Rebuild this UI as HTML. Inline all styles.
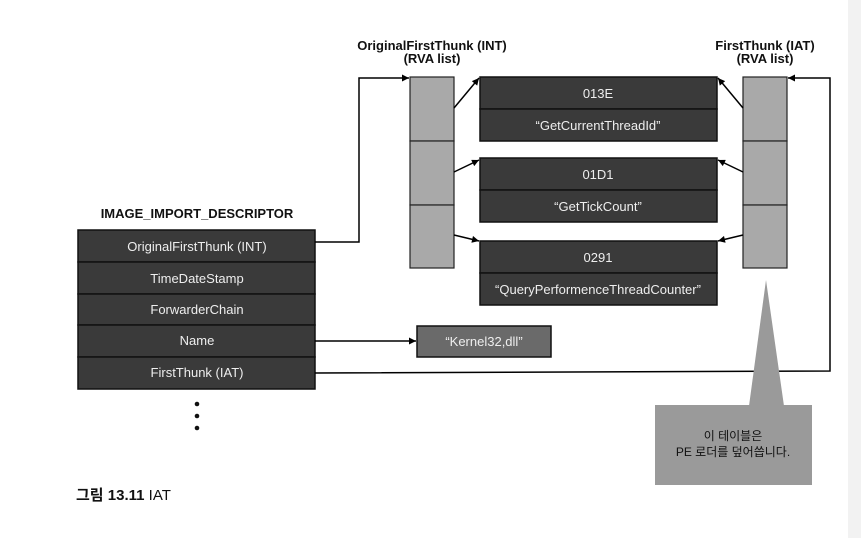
<!DOCTYPE html>
<html><head><meta charset="utf-8"><style>
html,body{margin:0;padding:0;background:#fff;}
svg{display:block;}
text{font-family:"Liberation Sans","Noto Sans CJK KR",sans-serif;}
</style></head><body>
<svg width="861" height="538" viewBox="0 0 861 538" xmlns="http://www.w3.org/2000/svg">
<defs>
<marker id="a" viewBox="0 0 10 10" refX="10" refY="5" markerWidth="9" markerHeight="7" orient="auto" markerUnits="userSpaceOnUse"><path d="M0,0 L10,5 L0,10 z" fill="#000"/></marker>
</defs>
<rect width="861" height="538" fill="#fff"/>
<rect x="848" y="0" width="13" height="538" fill="#f2f2f2"/>
<!-- headers -->
<g font-weight="bold" font-size="13" fill="#111" text-anchor="middle">
<text x="432" y="50">OriginalFirstThunk (INT)</text>
<text x="432" y="63">(RVA list)</text>
<text x="765" y="50">FirstThunk (IAT)</text>
<text x="765" y="63">(RVA list)</text>
<text x="197" y="218">IMAGE_IMPORT_DESCRIPTOR</text>
</g>
<!-- left table -->
<g stroke="#111" stroke-width="1.5" fill="#3a3a3a">
<rect x="78" y="230" width="237" height="32"/>
<rect x="78" y="262" width="237" height="32"/>
<rect x="78" y="294" width="237" height="31"/>
<rect x="78" y="325" width="237" height="32"/>
<rect x="78" y="357" width="237" height="32"/>
</g>
<g fill="#eee" font-size="13" text-anchor="middle">
<text x="197" y="251">OriginalFirstThunk (INT)</text>
<text x="197" y="283">TimeDateStamp</text>
<text x="197" y="314">ForwarderChain</text>
<text x="197" y="345">Name</text>
<text x="197" y="377">FirstThunk (IAT)</text>
</g>
<g fill="#111"><circle cx="197" cy="404" r="2.3"/><circle cx="197" cy="416" r="2.3"/><circle cx="197" cy="428" r="2.3"/></g>
<!-- columns -->
<g stroke="#222" stroke-width="1.2" fill="#a9a9a9">
<rect x="410" y="77" width="44" height="64"/><rect x="410" y="141" width="44" height="64"/><rect x="410" y="205" width="44" height="63"/>
<rect x="743" y="77" width="44" height="64"/><rect x="743" y="141" width="44" height="64"/><rect x="743" y="205" width="44" height="63"/>
</g>
<!-- function boxes -->
<g stroke="#111" stroke-width="1.5" fill="#3a3a3a">
<rect x="480" y="77" width="237" height="32"/><rect x="480" y="109" width="237" height="32"/>
<rect x="480" y="158" width="237" height="32"/><rect x="480" y="190" width="237" height="32"/>
<rect x="480" y="241" width="237" height="32"/><rect x="480" y="273" width="237" height="32"/>
</g>
<g fill="#eee" font-size="13" text-anchor="middle">
<text x="598" y="98">013E</text>
<text x="598" y="130">“GetCurrentThreadId”</text>
<text x="598" y="179">01D1</text>
<text x="598" y="211">“GetTickCount”</text>
<text x="598" y="262">0291</text>
<text x="598" y="294">“QueryPerformenceThreadCounter”</text>
</g>
<!-- kernel32 -->
<rect x="417" y="326" width="134" height="31" fill="#6a6a6a" stroke="#111" stroke-width="1.5"/>
<text x="484" y="346" fill="#eee" font-size="13" text-anchor="middle">“Kernel32,dll”</text>
<!-- connectors -->
<g stroke="#000" stroke-width="1.5" fill="none">
<polyline points="315,242 359,242 359,78 409,78" marker-end="url(#a)"/>
<line x1="315" y1="341" x2="416" y2="341" marker-end="url(#a)"/>
<polyline points="315,373 830,371 830,78 788,78" marker-end="url(#a)"/>
<line x1="454" y1="108" x2="479" y2="78" marker-end="url(#a)"/>
<line x1="454" y1="172" x2="479" y2="160" marker-end="url(#a)"/>
<line x1="454" y1="235" x2="479" y2="241" marker-end="url(#a)"/>
<line x1="743" y1="108" x2="718" y2="78" marker-end="url(#a)"/>
<line x1="743" y1="172" x2="718" y2="160" marker-end="url(#a)"/>
<line x1="743" y1="235" x2="718" y2="241" marker-end="url(#a)"/>
</g>
<!-- callout -->
<polygon points="766,280 749,406 784,406" fill="#9a9a9a"/>
<rect x="655" y="405" width="157" height="80" fill="#9a9a9a"/>
<g font-size="12" text-anchor="middle" fill="#111">
<text x="733" y="440">이 테이블은</text>
<text x="733" y="456">PE 로더를 덮어씁니다.</text>
</g>
<!-- caption -->
<text x="76" y="500" font-size="15" fill="#111"><tspan font-weight="bold">그림 13.11</tspan> IAT</text>
</svg>
</body></html>
